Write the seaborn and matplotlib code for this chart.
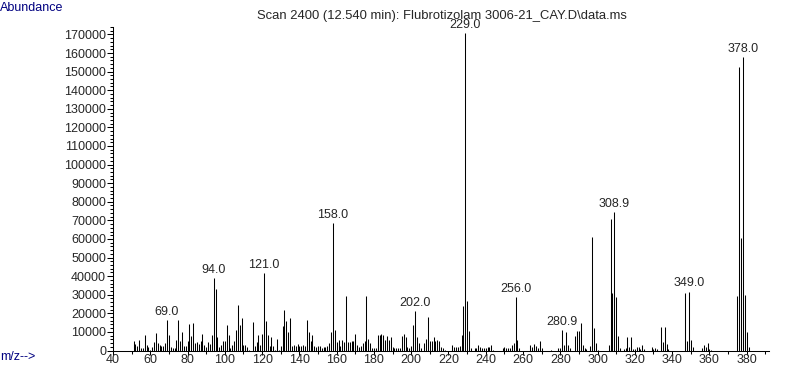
import numpy as np
import pandas as pd
import matplotlib
matplotlib.use("Agg")
import matplotlib.pyplot as plt
from matplotlib.ticker import MultipleLocator, StrMethodFormatter
import seaborn as sns

# mass spectrum (m/z, abundance)
mz = [51, 52, 53, 54, 55, 56, 57, 58, 59, 60, 61, 62, 63, 64, 65, 66, 67, 68, 69, 70,
      71, 72, 73, 74, 75, 76, 77, 78, 79, 80, 81, 82, 83, 84, 85, 86, 87, 88, 89, 90,
      91, 92, 93, 94, 95, 96, 97, 98, 99, 100, 101, 102, 103, 104, 105, 106, 107, 108, 109, 110,
      111, 112, 113, 115, 116, 117, 118, 119, 120, 121, 122, 123, 124, 125, 126, 127, 128, 129, 130,
      131, 132, 133, 134, 135, 136, 137, 138, 139, 140, 141, 142, 143, 144, 145, 146, 147, 148, 149, 150,
      151, 152, 153, 154, 155, 156, 157, 158, 159, 160, 161, 162, 163, 164, 165, 166, 167, 168, 169, 170,
      171, 172, 173, 174, 175, 176, 177, 178, 179, 180, 181, 182, 183, 184, 185, 186, 187, 188, 189, 190,
      191, 192, 193, 194, 195, 196, 197, 198, 199, 200, 201, 202, 203, 204, 205, 207, 208, 209, 210,
      211, 212, 213, 214, 215, 216, 217, 218, 222, 223, 224, 225, 226, 227, 228, 229, 230,
      231, 232, 234, 235, 236, 237, 238, 239, 240, 241, 242, 243, 244, 249, 250,
      251, 252, 253, 254, 255, 256, 257, 258, 264, 265, 266, 267, 268, 269, 270,
      275, 279, 280, 280.9, 282, 283, 284, 285, 288, 289, 290,
      291, 292, 293, 294, 296, 297, 298, 299, 300, 306, 307, 308, 308.9, 310,
      311, 312, 314, 315, 316, 317, 318, 319, 320, 321, 322, 323, 324, 325, 329, 330,
      331, 332, 334, 335, 336, 337, 338, 347, 348, 349, 350,
      351, 356, 357, 358, 359, 360, 361, 375, 376, 377, 378, 379, 380, 381]
abundance = [5000, 3600, 2300, 5500, 1100, 1400, 8200, 2900, 1800, 500, 1800, 4500, 9500, 4100, 3200, 2300, 2300, 4100, 16300, 8200,
             1800, 1400, 1100, 5900, 16300, 5000, 9800, 2300, 2300, 5000, 14300, 7700, 14900, 4100, 4500, 3600, 5000, 9100, 2900, 1800,
             4500, 3600, 8200, 39000, 33300, 7200, 1800, 3200, 5000, 5000, 13600, 8200, 1400, 2900, 5000, 10900, 24700, 13600, 17500, 2900,
             2900, 1800, 500, 15400, 2300, 4700, 8200, 2900, 9000, 41500, 16100, 8200, 2300, 7200, 2300, 500, 6400, 500, 2300,
             13100, 22000, 16000, 10000, 17300, 2300, 3200, 2300, 3600, 2300, 2300, 3200, 2300, 16300, 9800, 5000, 8200, 2300, 1800, 2300,
             2300, 1400, 1800, 1800, 2300, 4100, 10000, 68400, 11000, 4500, 5500, 2300, 5500, 4500, 29200, 4500, 4500, 5000, 5000, 9000,
             3200, 1800, 2300, 4100, 5000, 29200, 6400, 4100, 1100, 1400, 1100, 8200, 8200, 9100, 8600, 5500, 7700, 5500, 7200, 1800,
             1100, 1100, 1100, 1400, 7700, 9000, 7200, 1800, 1100, 2300, 13600, 21100, 7200, 4100, 1100, 4100, 6300, 17900, 5000,
             5000, 7200, 5000, 5400, 5000, 1800, 1100, 500, 2900, 1800, 1800, 1800, 2300, 8600, 23800, 170700, 26500,
             10400, 1100, 1100, 1400, 3200, 1800, 1400, 1400, 1400, 1800, 1800, 3200, 500, 1100, 1800,
             1100, 1100, 1400, 2900, 4100, 28600, 5600, 1400, 3200, 1800, 3600, 2300, 1400, 5000, 1100,
             500, 1100, 1100, 10900, 3200, 9800, 2900, 1100, 8000, 10700, 10700,
             14600, 2800, 1600, 900, 2300, 60900, 12100, 3800, 500, 2700, 70500, 30800, 74600, 29000,
             8000, 1600, 1000, 1600, 7500, 2100, 7500, 1000, 900, 1800, 2100, 1000, 2700, 900, 2000, 900,
             1600, 900, 12900, 4500, 12900, 3600, 1000, 31100, 5200, 31700, 5700,
             2100, 1600, 3000, 1800, 3800, 900, 500, 29500, 152400, 60400, 157800, 30000, 10000, 2000]

labeled = [69.0, 94.0, 121.0, 158.0, 202.0, 229.0, 256.0, 280.9, 308.9, 349.0, 378.0]

title = "Scan 2400 (12.540 min): Flubrotizolam 3006-21_CAY.D\\data.ms"

sns.set_style("ticks")
plt.rcParams["font.family"] = ["Liberation Sans", "DejaVu Sans"]

data = pd.DataFrame({"mz": mz, "abundance": abundance})

fig = plt.figure(figsize=(7.87, 3.67), dpi=100)
ax = fig.add_axes([113 / 787, 16.5 / 367, (769 - 113) / 787, (350.5 - 27) / 367])

ax.vlines(data["mz"], 0, data["abundance"], color="black", lw=0.75)

# peak labels
for m in labeled:
    a = data.loc[data["mz"] == m, "abundance"].iloc[0]
    ax.annotate(f"{m:.1f}", (m, a), xytext=(0, 1.5), textcoords="offset points",
                ha="center", va="bottom", fontsize=9, zorder=5, annotation_clip=False,
                bbox=dict(facecolor="white", edgecolor="none", pad=0.5))

ax.set_xlim(40, 392)
ax.set_ylim(0, 174000)
ax.xaxis.set_major_locator(MultipleLocator(20))
ax.xaxis.set_minor_locator(MultipleLocator(10))
ax.yaxis.set_major_locator(MultipleLocator(10000))
ax.yaxis.set_minor_locator(MultipleLocator(2000))
ax.yaxis.set_major_formatter(StrMethodFormatter("{x:.0f}"))
ax.tick_params(which="major", length=4, width=0.75, labelsize=9, pad=1, color="black")
ax.tick_params(which="minor", length=2, width=0.75, color="black")
ax.tick_params(axis="x", which="major", length=3, pad=-0.5)
for s in ["left", "bottom"]:
    ax.spines[s].set_linewidth(0.75)
    ax.spines[s].set_color("black")
sns.despine(ax=ax)
ax.set_facecolor("white")

fig.text(442 / 787, 1 - 16 / 367, title, ha="center", va="center", fontsize=9.4, zorder=1)
fig.text(0.0, 1 - 8 / 367, "Abundance", ha="left", va="center", fontsize=9, color="#000080")
fig.text(0.0, 1 - 357 / 367, "m/z-->", ha="left", va="center", fontsize=9, color="#000080")

fig.savefig("out.png", dpi=100, facecolor="white")
